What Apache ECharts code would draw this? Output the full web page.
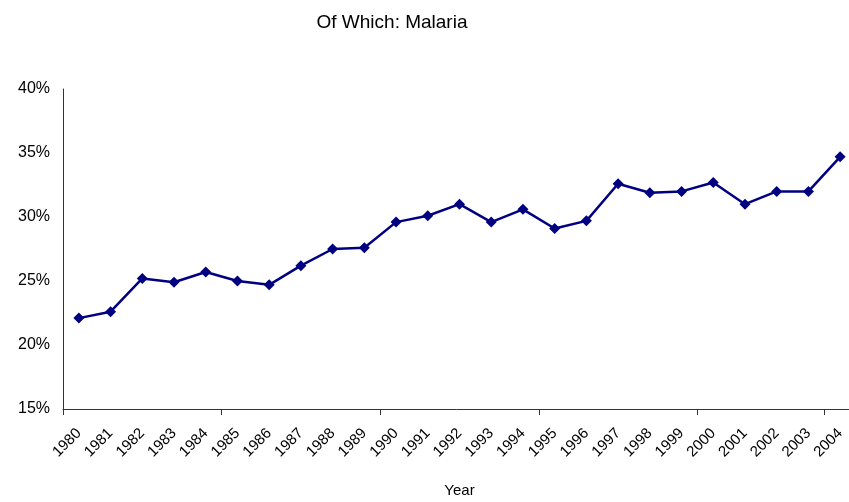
<!DOCTYPE html>
<html>
<head>
<meta charset="utf-8">
<script src="https://cdn.jsdelivr.net/npm/echarts@6/dist/echarts.min.js"></script>
<style>
  html, body { margin: 0; padding: 0; background: #fff; }
  #main { width: 849px; height: 502px; }
</style>
</head>
<body>
<div id="main"></div>
<script>
// years on the category axis
var years = ['1980','1981','1982','1983','1984','1985','1986','1987','1988','1989',
  '1990','1991','1992','1993','1994','1995','1996','1997','1998','1999',
  '2000','2001','2002','2003','2004'];
// share of malaria, percent
var malaria = [22.1, 22.6, 25.2, 24.9, 25.7, 25.0, 24.7, 26.2, 27.5, 27.6,
  29.6, 30.1, 31.0, 29.6, 30.6, 29.1, 29.7, 32.6, 31.9, 32.0,
  32.7, 31.0, 32.0, 32.0, 34.7];
var yTicks = [15, 20, 25, 30, 35, 40];

var chart = echarts.init(document.getElementById('main'));
chart.setOption({
  animation: false,
  title: {
    text: 'Of Which: Malaria',
    left: 387, top: 8, textAlign: 'center',
    textStyle: { fontFamily: 'Liberation Sans', fontSize: 19, fontWeight: 'normal', color: '#000' }
  },
  grid: { left: 63, top: 89, width: 793, height: 320, outerBoundsMode: 'none', containLabel: false },
  xAxis: {
    type: 'category',
    data: years,
    boundaryGap: true,
    name: 'Year',
    nameLocation: 'middle',
    nameGap: 74,
    nameTextStyle: { fontFamily: 'Liberation Sans', fontSize: 15, color: '#000' },
    axisLine: { lineStyle: { color: '#333', width: 1 } },
    axisTick: { show: true, interval: 4, length: 6, lineStyle: { color: '#333' } },
    axisLabel: {
      interval: 0, rotate: 45, margin: 22,
      fontFamily: 'Liberation Sans', fontSize: 15, color: '#000'
    },
    splitLine: { show: false }
  },
  yAxis: {
    type: 'value',
    min: yTicks[0], max: yTicks[yTicks.length - 1], interval: 5,
    axisLine: { show: true, lineStyle: { color: '#333', width: 1 } },
    axisTick: { show: false },
    axisLabel: {
      formatter: '{value}%', margin: 13,
      fontFamily: 'Liberation Sans', fontSize: 16, color: '#000'
    },
    splitLine: { show: false }
  },
  series: [{
    type: 'line',
    data: malaria,
    symbol: 'diamond',
    symbolSize: 11,
    lineStyle: { color: '#000080', width: 2.5 },
    itemStyle: { color: '#000080' }
  }]
});
</script>
</body>
</html>
